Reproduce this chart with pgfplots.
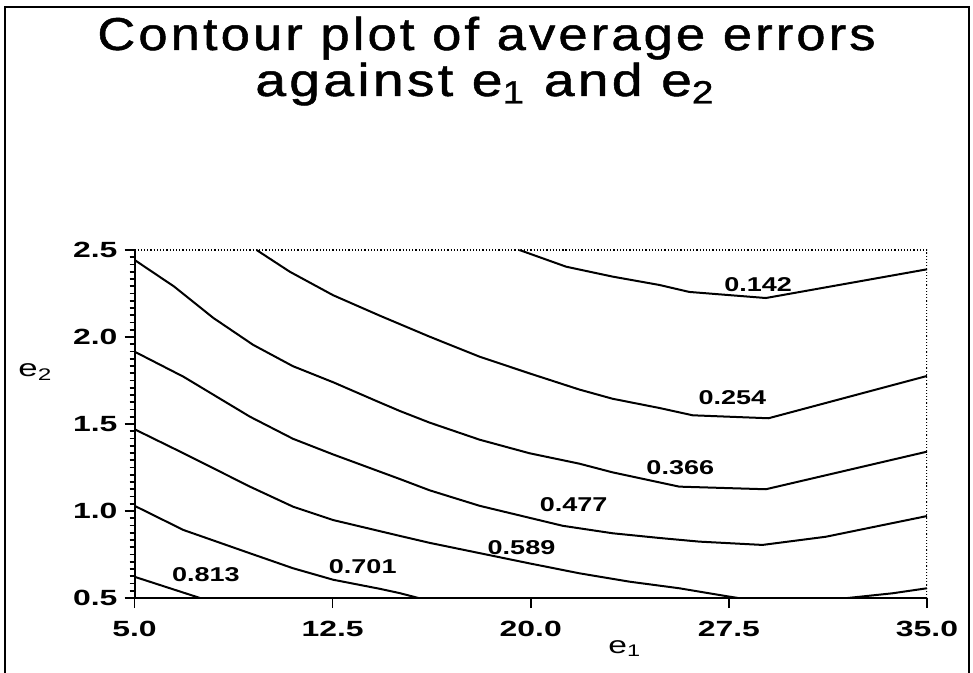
\documentclass[border=0pt]{standalone}
\usepackage{pgfplots}
\pgfplotsset{compat=1.18}
\usepackage{graphicx}
\usepackage{fontspec}
\setmainfont{Liberation Sans}
\newfontfamily\titlefont[LetterSpace=6,FakeBold=1]{Liberation Sans}
\newcommand{\wide}[1]{\scalebox{1.45}[1]{#1}}
\newcommand{\lab}[1]{\scalebox{1.35}[1]{\bfseries\fontsize{10bp}{11bp}\selectfont #1}}
\begin{document}
\begin{tikzpicture}
\path[use as bounding box] (0bp,0bp) rectangle (486.5bp,336.5bp);
\draw[line width=1bp] (2.5bp,-5bp) -- (2.5bp,333bp) -- (484.5bp,333bp) -- (484.5bp,-5bp);
\node[anchor=base] at (243.25bp,311.5bp) {\titlefont\fontsize{23bp}{26bp}\selectfont\scalebox{1.14}[1]{Contour plot of average errors}};
\node[anchor=base] at (242.5bp,288.5bp) {\titlefont\fontsize{23bp}{26bp}\selectfont\scalebox{1.2}[1]{against e\textsubscript{1} and e\textsubscript{2}}};
\begin{axis}[
  at={(67.25bp,37.5bp)}, anchor=south west,
  width=396.25bp, height=174bp, scale only axis,
  xmin=5, xmax=35, ymin=0.5, ymax=2.5,
  axis lines*=left,
  axis line style={line width=1bp},
  every tick/.style={black, line width=0.8bp},
  tick align=outside,
  major tick length=5bp, minor tick length=2.5bp,
  xtick={5,12.5,20,27.5,35},
  xticklabels={\wide{5.0},\wide{12.5},\wide{20.0},\wide{27.5},\wide{35.0}},
  ytick={0.5,1.0,1.5,2.0,2.5},
  yticklabels={\wide{0.5},\wide{1.0},\wide{1.5},\wide{2.0},\wide{2.5}},
  minor y tick num=11,
  ticklabel style={font=\bfseries\fontsize{11bp}{13bp}\selectfont},
  xticklabel style={yshift=-3bp},
  /pgf/number format/assume math mode=true,
]
\draw[densely dotted, line width=0.6bp] (rel axis cs:0,1) -- (rel axis cs:1,1) -- (rel axis cs:1,0);
% 0.813
\addplot[black, line width=1bp, no marks] coordinates {(5,0.622) (7.48,0.5)};
% 0.701
\addplot[black, line width=1bp, no marks] coordinates {(5,1.03) (6.85,0.891) (9.37,0.757) (11.0,0.671) (12.52,0.605) (14.28,0.553) (15.04,0.528) (15.75,0.5)};
% 0.589
\addplot[black, line width=1bp, no marks] coordinates {(5,1.47) (6.85,1.332) (9.37,1.14) (11.0,1.025) (12.52,0.948) (15.04,0.857) (16.17,0.817) (19.95,0.699) (21.84,0.642) (23.73,0.594) (25.62,0.556) (27.39,0.511) (27.85,0.5)};
\addplot[black, line width=1bp, no marks] coordinates {(32.0,0.5) (33.69,0.527) (35,0.556)};
% 0.477
\addplot[black, line width=1bp, no marks] coordinates {(5,1.916) (6.85,1.772) (9.37,1.542) (11.0,1.415) (12.52,1.325) (15.04,1.184) (16.17,1.119) (18.06,1.03) (21.21,0.915) (23.1,0.872) (24.87,0.845) (26.38,0.824) (28.77,0.805) (31.17,0.852) (35,0.971)};
% 0.366
\addplot[black, line width=1bp, no marks] coordinates {(5,2.443) (6.5,2.29) (7.98,2.11) (9.49,1.955) (11.0,1.832) (12.52,1.74) (14.16,1.632) (15.04,1.575) (16.17,1.508) (18.06,1.41) (19.95,1.332) (21.84,1.272) (23.1,1.222) (25.62,1.14) (28.9,1.125) (35,1.341)};
% 0.254
\addplot[black, line width=1bp, no marks] coordinates {(9.62,2.5) (10.88,2.375) (12.52,2.24) (14.28,2.123) (16.17,2.002) (18.06,1.887) (19.95,1.791) (21.84,1.698) (23.1,1.645) (24.87,1.592) (26.13,1.55) (29.0,1.533) (35,1.776)};
% 0.142
\addplot[black, line width=1bp, no marks] coordinates {(19.57,2.5) (21.34,2.404) (23.1,2.347) (24.87,2.299) (26.0,2.259) (28.9,2.224) (35,2.389)};
\node at (axis cs:7.70,0.632) {\lab{0.813}};
\node at (axis cs:13.64,0.678) {\lab{0.701}};
\node at (axis cs:19.65,0.787) {\lab{0.589}};
\node at (axis cs:21.62,1.034) {\lab{0.477}};
\node at (axis cs:25.66,1.247) {\lab{0.366}};
\node at (axis cs:27.63,1.649) {\lab{0.254}};
\node at (axis cs:28.61,2.299) {\lab{0.142}};
\end{axis}
\node[anchor=base] at (312.5bp,10bp) {\fontsize{12bp}{14bp}\selectfont\scalebox{1.4}[1]{e\textsubscript{1}}};
\node[anchor=base west, inner sep=0pt] at (9bp,148bp) {\fontsize{12bp}{14bp}\selectfont\scalebox{1.45}[1]{e\textsubscript{2}}};
\end{tikzpicture}
\end{document}
